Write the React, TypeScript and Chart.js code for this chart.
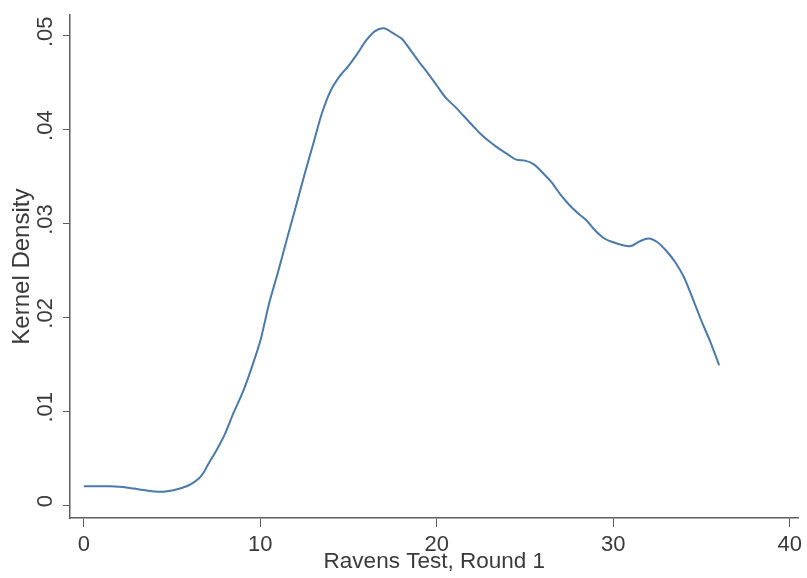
import React, { useEffect, useRef } from "react";
import { Chart, registerables } from "chart.js";

Chart.register(...registerables);

const xValues = [
  0, 0.5, 1, 1.5, 2, 2.5, 3, 3.5, 4, 4.5, 5, 5.5, 6, 6.5, 6.8, 7, 7.5, 8, 8.5, 9,
  9.5, 10, 10.5, 11, 11.5, 12, 12.5, 13, 13.5, 14, 14.5, 15, 15.5, 16, 16.5, 17,
  17.5, 18, 18.5, 19, 19.5, 20, 20.5, 21, 21.5, 22, 22.5, 23, 23.5, 24, 24.5, 25,
  25.5, 26, 26.5, 27, 27.5, 28, 28.5, 29, 29.5, 30, 30.5, 31, 31.5, 32, 32.5, 33,
  33.5, 34, 34.5, 35, 35.5, 36,
];

const densityValues = [
  0.002, 0.002, 0.002, 0.002, 0.00195, 0.00185, 0.00172, 0.00158, 0.00145, 0.00142,
  0.00155, 0.0018, 0.00215, 0.0028, 0.0035, 0.0042, 0.0058, 0.0076, 0.0099, 0.012,
  0.0146, 0.0175, 0.0215, 0.0248, 0.0283, 0.0317, 0.0352, 0.0385, 0.0418, 0.0442,
  0.0457, 0.0468, 0.0481, 0.0495, 0.0505, 0.0508, 0.0503, 0.0497, 0.0485, 0.0472,
  0.046, 0.0447, 0.0434, 0.0425, 0.0415, 0.0405, 0.0395, 0.0387, 0.038, 0.0374,
  0.0368, 0.0367, 0.0363, 0.0354, 0.0344, 0.0331, 0.032, 0.0311, 0.0303, 0.0292,
  0.0284, 0.028, 0.0277, 0.0276, 0.0281, 0.0284, 0.028, 0.0271, 0.0259, 0.0243,
  0.022, 0.0196, 0.0174, 0.0149,
];

const xTicks = [0, 10, 20, 30, 40];
const yTicks = [0, 0.01, 0.02, 0.03, 0.04, 0.05];
const yTickLabels = ["0", ".01", ".02", ".03", ".04", ".05"];
const xTitle = "Ravens Test, Round 1";
const yTitle = "Kernel Density";

const FONT = "'Liberation Sans', Arial, sans-serif";
const TEXT = "#3a3a3a";
const AXIS = "#5e5e5e";
const LINE = "#4a79aa";

export default function App() {
  const ref = useRef<HTMLCanvasElement | null>(null);

  useEffect(() => {
    if (!ref.current) return;
    const chart = new Chart(ref.current, {
      type: "line",
      data: {
        datasets: [
          {
            data: xValues.map((x, i) => ({ x, y: densityValues[i] })),
            borderColor: LINE,
            borderWidth: 2,
            pointRadius: 0,
            tension: 0.3,
            fill: false,
          },
        ],
      },
      options: {
        responsive: false,
        animation: false,
        layout: { padding: { top: 10, left: 0, right: 0, bottom: 0 }, autoPadding: false },
        plugins: { legend: { display: false }, tooltip: { enabled: false } },
        scales: {
          x: {
            type: "linear",
            min: -0.784,
            max: 40.5,
            afterBuildTicks: (s: any) => {
              s.ticks = xTicks.map((v) => ({ value: v }));
            },
            afterFit: (s: any) => {
              s.height = 60;
            },
            grid: {
              drawOnChartArea: false,
              drawTicks: true,
              tickLength: 9,
              color: AXIS,
              lineWidth: 1,
            },
            border: { display: true, color: AXIS, width: 1.5 },
            ticks: {
              color: TEXT,
              font: { family: FONT, size: 22 },
              padding: 5,
              maxRotation: 0,
              minRotation: 0,
              callback: (v: any) => String(v),
            },
            title: {
              display: true,
              text: xTitle,
              color: TEXT,
              font: { family: FONT, size: 22.5 },
              padding: { top: 0, bottom: 3 },
            },
          },
          y: {
            type: "linear",
            min: -0.00137,
            max: 0.05219,
            afterBuildTicks: (s: any) => {
              s.ticks = yTicks.map((v) => ({ value: v }));
            },
            afterFit: (s: any) => {
              s.width = 70;
            },
            grid: {
              drawOnChartArea: false,
              drawTicks: true,
              tickLength: 7,
              color: AXIS,
              lineWidth: 1,
            },
            border: { display: true, color: AXIS, width: 1.5 },
            ticks: {
              color: TEXT,
              font: { family: FONT, size: 22 },
              padding: 2,
              minRotation: 90,
              maxRotation: 90,
              crossAlign: "center",
              labelOffset: -4,
              callback: (_v: any, i: number) => yTickLabels[i],
            },
            title: {
              display: true,
              text: yTitle,
              color: TEXT,
              font: { family: FONT, size: 24 },
              padding: { top: 8, bottom: 0 },
            },
          },
        },
      },
    });
    return () => chart.destroy();
  }, []);

  return (
    <div style={{ position: "fixed", left: 0, top: 0, width: 807, height: 578, background: "#fff" }}>
      <canvas ref={ref} width={807} height={578} style={{ display: "block" }} />
    </div>
  );
}
